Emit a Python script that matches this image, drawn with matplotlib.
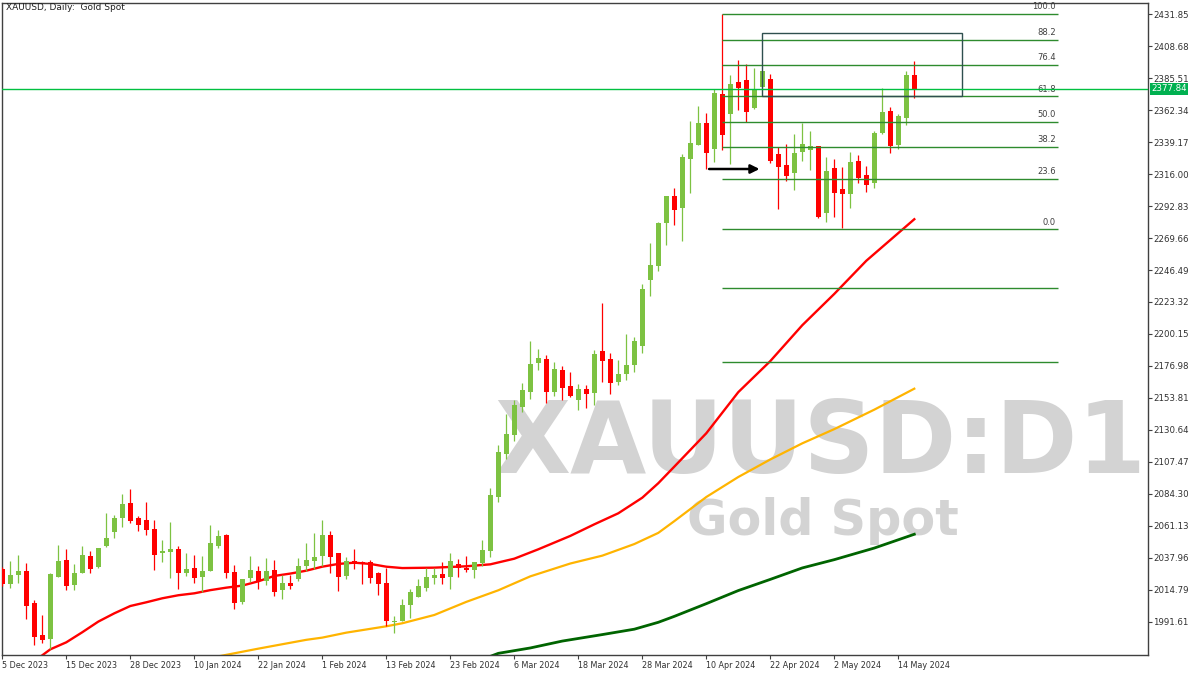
import numpy as np
import matplotlib.pyplot as plt
from matplotlib.patches import Rectangle

# daily candles, 5 Dec 2023 .. 16 May 2024
opens = [2029.9, 2018.7, 2025.7, 2028.4, 2005.0, 1982.0, 1979.4, 2024.3, 2036.4, 2018.5,
         2027.2, 2039.3, 2031.5, 2046.8, 2056.9, 2067.1, 2077.7, 2066.8, 2065.4, 2058.8,
         2041.7, 2042.4, 2044.3, 2027.2, 2030.6, 2024.3, 2028.6, 2046.8, 2054.5, 2027.7,
         2006.2, 2023.3, 2028.4, 2021.2, 2029.1, 2014.6, 2019.7, 2022.6, 2032.0, 2035.6,
         2039.3, 2054.5, 2041.5, 2024.8, 2035.6, 2034.9, 2034.9, 2027.0, 2019.7, 1991.5,
         1992.2, 2004.0, 2009.8, 2016.3, 2023.6, 2026.2, 2024.3, 2033.2, 2030.8, 2029.4,
         2034.4, 2043.1, 2082.3, 2113.2, 2127.0, 2147.5, 2158.4, 2179.4, 2182.0, 2158.4,
         2174.1, 2162.5, 2152.6, 2160.3, 2157.6, 2187.8, 2182.0, 2165.6, 2171.4, 2177.9,
         2191.7, 2239.5, 2249.7, 2280.8, 2300.2, 2291.7, 2327.2, 2337.4, 2353.1, 2334.5,
         2374.1, 2359.8, 2382.8, 2384.2, 2364.2, 2379.2, 2384.9, 2330.6, 2322.6, 2317.1,
         2332.3, 2333.7, 2336.4, 2288.1, 2320.5, 2305.2, 2301.9, 2325.5, 2315.4, 2309.8,
         2345.8, 2361.8, 2337.4, 2356.9, 2387.8]
highs = [2031.0, 2035.7, 2040.0, 2034.2, 2007.4, 1996.5, 2027.0, 2047.3, 2044.3, 2033.5,
         2046.5, 2042.9, 2045.1, 2070.4, 2069.0, 2084.2, 2087.8, 2068.3, 2078.4, 2065.4,
         2050.9, 2063.9, 2046.5, 2041.5, 2040.0, 2039.3, 2061.7, 2058.1, 2055.2, 2032.8,
         2022.6, 2039.3, 2032.0, 2037.8, 2036.4, 2025.5, 2025.5, 2037.8, 2048.7, 2055.9,
         2065.4, 2057.4, 2041.5, 2038.5, 2044.4, 2035.6, 2036.4, 2027.7, 2030.6, 1995.8,
         2008.1, 2015.6, 2022.6, 2030.3, 2030.3, 2034.7, 2041.5, 2037.1, 2039.3, 2034.7,
         2050.9, 2088.6, 2119.7, 2142.2, 2152.3, 2164.6, 2195.1, 2189.3, 2184.9, 2179.9,
         2177.2, 2172.6, 2163.9, 2163.2, 2188.6, 2222.8, 2186.4, 2181.3, 2200.1, 2198.0,
         2236.4, 2266.1, 2281.3, 2300.2, 2306.2, 2330.6, 2354.5, 2365.4, 2360.3, 2377.7,
         2431.85, 2387.8, 2398.7, 2395.8, 2392.9, 2390.8, 2388.6, 2335.9, 2337.9, 2345.1,
         2353.3, 2347.5, 2336.4, 2328.4, 2327.0, 2321.2, 2332.1, 2329.9, 2321.9, 2347.3,
         2378.4, 2364.7, 2359.6, 2390.8, 2398.0]
lows = [2017.5, 2016.3, 2020.0, 1993.9, 1975.0, 1976.5, 1971.9, 2024.3, 2014.9, 2014.9,
        2027.2, 2027.2, 2030.8, 2046.0, 2052.5, 2060.5, 2063.4, 2057.6, 2054.7, 2029.3,
        2035.2, 2023.6, 2015.6, 2025.0, 2020.0, 2013.4, 2028.6, 2045.3, 2023.6, 2001.1,
        2004.7, 2020.4, 2015.4, 2018.3, 2010.3, 2008.1, 2015.4, 2021.2, 2028.4, 2029.9,
        2032.0, 2027.0, 2013.9, 2022.6, 2029.9, 2019.0, 2019.7, 2011.0, 1988.6, 1983.7,
        1992.2, 1994.6, 2009.8, 2014.1, 2019.2, 2019.2, 2015.6, 2024.3, 2027.9, 2023.6,
        2032.3, 2038.8, 2078.7, 2109.8, 2122.9, 2143.9, 2153.3, 2174.3, 2150.4, 2155.5,
        2152.6, 2154.7, 2145.3, 2146.8, 2148.9, 2165.6, 2156.9, 2163.4, 2167.1, 2172.8,
        2186.6, 2227.9, 2246.1, 2264.9, 2279.4, 2267.8, 2302.6, 2337.4, 2319.7, 2325.0,
        2333.7, 2323.6, 2362.7, 2354.0, 2363.5, 2379.2, 2324.3, 2291.0, 2311.3, 2304.8,
        2325.8, 2319.2, 2284.5, 2281.6, 2285.2, 2277.2, 2291.7, 2309.8, 2303.3, 2306.2,
        2345.1, 2331.6, 2334.5, 2351.9, 2371.4]
closes = [2018.7, 2025.5, 2028.4, 2003.3, 1980.8, 1978.6, 2026.2, 2035.7, 2017.8, 2027.0,
          2040.0, 2030.1, 2045.1, 2052.3, 2066.8, 2077.0, 2064.9, 2062.0, 2058.4, 2040.2,
          2042.9, 2044.3, 2027.2, 2029.9, 2023.6, 2028.4, 2048.7, 2053.8, 2027.2, 2005.4,
          2022.6, 2029.1, 2021.2, 2028.4, 2013.2, 2019.7, 2017.5, 2032.0, 2036.4, 2038.5,
          2054.5, 2038.5, 2024.1, 2035.6, 2033.5, 2033.5, 2023.3, 2019.0, 1992.2, 1992.2,
          2003.8, 2013.2, 2017.5, 2024.1, 2025.5, 2023.6, 2035.7, 2030.3, 2029.4, 2034.7,
          2043.6, 2083.5, 2114.7, 2127.7, 2148.7, 2159.6, 2178.4, 2182.8, 2158.4, 2174.8,
          2161.3, 2155.5, 2160.3, 2156.9, 2185.7, 2180.8, 2164.9, 2171.2, 2177.7, 2195.1,
          2232.8, 2250.2, 2280.6, 2300.2, 2290.3, 2328.4, 2338.6, 2353.1, 2331.6, 2374.8,
          2344.6, 2381.3, 2378.4, 2361.3, 2377.7, 2390.8, 2325.8, 2321.4, 2314.9, 2331.3,
          2337.9, 2336.4, 2285.2, 2318.3, 2302.6, 2301.9, 2324.8, 2313.4, 2308.4, 2345.8,
          2361.0, 2336.6, 2358.1, 2387.9, 2377.84]

# moving averages, read at some bars
ma_red_x = [4, 6, 8, 10, 12, 14, 16, 18, 20, 22, 24, 26, 28, 30, 32, 34, 36, 38, 40, 42, 44,
            46, 48, 50, 54, 58, 61, 64, 67, 71, 74, 77, 80, 82, 84, 88, 92, 96, 100, 104, 108, 114]
ma_red_y = [1963.0, 1971.6, 1976.7, 1984.0, 1991.7, 1997.7, 2003.0, 2005.7, 2008.6, 2010.8,
            2012.2, 2014.5, 2016.3, 2017.8, 2020.9, 2024.8, 2026.5, 2028.6, 2031.5, 2033.5,
            2034.4, 2033.5, 2031.5, 2030.5, 2030.8, 2031.8, 2033.2, 2037.3, 2044.1, 2053.8,
            2062.2, 2070.2, 2081.5, 2092.0, 2104.0, 2128.2, 2158.0, 2180.5, 2206.5, 2229.2,
            2253.2, 2283.3]
ma_orange_x = [27, 32, 38, 40, 43, 48, 50, 54, 58, 62, 66, 71, 75, 79, 82, 84, 88, 92, 96,
               100, 104, 109, 114]
ma_orange_y = [1966.5, 1972.1, 1978.5, 1980.1, 1983.7, 1988.3, 1990.5, 1996.5, 2006.0, 2014.4,
               2024.5, 2033.8, 2039.5, 2047.9, 2056.0, 2064.5, 2082.0, 2096.5, 2109.2, 2120.9,
               2131.2, 2145.3, 2160.5]
ma_green_x = [61, 62, 66, 70, 75, 79, 82, 84, 88, 92, 96, 100, 104, 109, 114]
ma_green_y = [1966.5, 1968.7, 1972.6, 1977.6, 1982.3, 1986.2, 1991.2, 1995.5, 2004.7, 2014.2,
              2022.3, 2030.6, 2036.6, 2045.0, 2055.0]

date_labels = ['5 Dec 2023', '15 Dec 2023', '28 Dec 2023', '10 Jan 2024', '22 Jan 2024',
               '1 Feb 2024', '13 Feb 2024', '23 Feb 2024', '6 Mar 2024', '18 Mar 2024',
               '28 Mar 2024', '10 Apr 2024', '22 Apr 2024', '2 May 2024', '14 May 2024']
price_ticks = [2431.85, 2408.68, 2385.51, 2362.34, 2339.17, 2316.00, 2292.83, 2269.66,
               2246.49, 2223.32, 2200.15, 2176.98, 2153.81, 2130.64, 2107.47, 2084.30,
               2061.13, 2037.96, 2014.79, 1991.61]

fib_high = 2431.85
fib_low = 2276.0
fib_levels = [100.0, 88.2, 76.4, 61.8, 50.0, 38.2, 23.6, 0.0, -27.2, -61.8]
last_price = 2377.84

fig = plt.figure(figsize=(12, 6.75), dpi=100)
ax = fig.add_axes([2.3 / 1200, 20 / 675, 1145.4 / 1200, 652 / 675])
ax.set_xlim(0, 143.175)
ax.set_ylim(1967.5, 2440.0)

# watermark
ax.text(0.714, 0.279, 'XAUUSD:D1', transform=ax.transAxes, ha='center', va='baseline',
        fontsize=71, fontweight='bold', color='#d3d3d3', zorder=0)
ax.text(0.716, 0.184, 'Gold Spot', transform=ax.transAxes, ha='center', va='baseline',
        fontsize=35.5, fontweight='bold', color='#d3d3d3', zorder=0)

# moving averages
ax.plot(ma_red_x, ma_red_y, color='#ff0000', lw=1.7, zorder=2)
ax.plot(ma_orange_x, ma_orange_y, color='#ffb400', lw=1.6, zorder=2)
ax.plot(ma_green_x, ma_green_y, color='#006400', lw=2.0, zorder=2)

# candles
o = np.array(opens)
h = np.array(highs)
l = np.array(lows)
c = np.array(closes)
idx = np.arange(len(o))
up = c >= o
cols = np.where(up, '#7dc242', '#ff0000')
ax.vlines(idx, l, h, colors=cols, lw=0.9, zorder=3)
body = np.maximum(np.abs(c - o), 0.8)
ax.bar(idx, body, bottom=np.minimum(o, c), width=0.62, color=cols, linewidth=0, zorder=3)

# fibonacci retracement
fib_x0, fib_x1 = 90, 132
for lev in fib_levels:
    p = fib_low + (fib_high - fib_low) * lev / 100
    ax.hlines(p, fib_x0, fib_x1, color='#2e8b2e', lw=1, zorder=4)
    if lev >= 0:
        ax.text(fib_x1 - 0.3, p + 2.0, '%.1f' % lev, ha='right', va='bottom',
                fontsize=6, color='#404040', zorder=4)

# box and arrow
ax.add_patch(Rectangle((95, 2372.4), 25, 45.65, fill=False, edgecolor='#2f4f4f', lw=1, zorder=4))
ax.annotate('', xy=(95, 2319.7), xytext=(88, 2319.7),
            arrowprops=dict(arrowstyle='-|>', color='black', lw=1.8, mutation_scale=13), zorder=5)

# current price line
ax.axhline(last_price, color='#00c040', lw=1, zorder=4)
ax.annotate('%.2f' % last_price, xy=(1.0, last_price), xycoords=('axes fraction', 'data'),
            xytext=(2.5, 0), textcoords='offset points', ha='left', va='center',
            fontsize=6.2, color='white',
            bbox=dict(boxstyle='square,pad=0.15', facecolor='#00b050', edgecolor='none'))

# axes styling
for s in ax.spines.values():
    s.set_color('#404040')
    s.set_linewidth(1)
ax.yaxis.tick_right()
ax.set_yticks(price_ticks)
ax.set_yticklabels(['%.2f' % v for v in price_ticks])
ax.tick_params(axis='y', length=3, width=0.8, color='#404040', labelsize=6.2,
               labelcolor='#303030', pad=0.8)
ax.set_xticks(np.arange(0, 8 * len(date_labels), 8))
ax.set_xticklabels(date_labels)
ax.tick_params(axis='x', length=3, width=0.8, color='#404040', labelsize=5.8,
               labelcolor='#303030', pad=1.5)
for lab in ax.get_xticklabels():
    lab.set_ha('left')

fig.text(6 / 1200, 1 - 8 / 675, 'XAUUSD, Daily:  Gold Spot', ha='left', va='center',
         fontsize=6.5, color='#202020')

fig.savefig('out.png', dpi=100)
